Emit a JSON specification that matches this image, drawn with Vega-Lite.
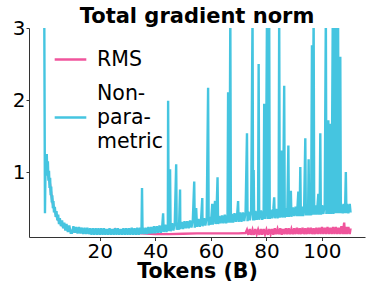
{
  "$schema": "https://vega.github.io/schema/vega-lite/v6.json",
  "width": 336,
  "height": 209,
  "autosize": {"type": "none"},
  "padding": {"left": 29, "top": 28, "right": 3, "bottom": 45},
  "title": {"text": "Total gradient norm", "fontSize": 21, "fontWeight": "bold", "font": "DejaVu Sans", "color": "black", "anchor": "middle", "frame": "group", "offset": -9},
  "config": {"view": {"stroke": null}, "font": "DejaVu Sans"},
  "data": {"values": [
    {"s":"RMS","x":0.5,"y":1.1},{"s":"RMS","x":1,"y":1.05},{"s":"RMS","x":1.5,"y":0.95},{"s":"RMS","x":2,"y":0.85},{"s":"RMS","x":2.5,"y":0.7},{"s":"RMS","x":3,"y":0.58},{"s":"RMS","x":3.5,"y":0.5},{"s":"RMS","x":4,"y":0.44},{"s":"RMS","x":4.5,"y":0.38},{"s":"RMS","x":5,"y":0.34},{"s":"RMS","x":6,"y":0.28},{"s":"RMS","x":7,"y":0.24},{"s":"RMS","x":8,"y":0.21},{"s":"RMS","x":9,"y":0.19},{"s":"RMS","x":10,"y":0.18},{"s":"RMS","x":14,"y":0.17},{"s":"RMS","x":18,"y":0.16},{"s":"RMS","x":22,"y":0.16},{"s":"RMS","x":24,"y":0.16},{"s":"RMS","x":25.5,"y":0.21},{"s":"RMS","x":27,"y":0.16},{"s":"RMS","x":30,"y":0.16},{"s":"RMS","x":35,"y":0.15},{"s":"RMS","x":40,"y":0.14},{"s":"RMS","x":45,"y":0.14},{"s":"RMS","x":50,"y":0.145},{"s":"RMS","x":55,"y":0.15},{"s":"RMS","x":60,"y":0.15},{"s":"RMS","x":65,"y":0.15},{"s":"RMS","x":70,"y":0.15},{"s":"RMS","x":72.5,"y":0.155},
    {"s":"RMS","x":73,"y":0.2},{"s":"RMS","x":73.5,"y":0.13},{"s":"RMS","x":74,"y":0.21},{"s":"RMS","x":74.5,"y":0.13},{"s":"RMS","x":75,"y":0.2},{"s":"RMS","x":75.5,"y":0.13},{"s":"RMS","x":76,"y":0.21},{"s":"RMS","x":76.5,"y":0.14},{"s":"RMS","x":77,"y":0.2},{"s":"RMS","x":77.5,"y":0.13},{"s":"RMS","x":78,"y":0.21},{"s":"RMS","x":78.5,"y":0.13},{"s":"RMS","x":79,"y":0.21},{"s":"RMS","x":79.5,"y":0.14},{"s":"RMS","x":80,"y":0.2},{"s":"RMS","x":80.5,"y":0.13},{"s":"RMS","x":81,"y":0.21},{"s":"RMS","x":81.5,"y":0.14},{"s":"RMS","x":82,"y":0.21},{"s":"RMS","x":82.5,"y":0.13},{"s":"RMS","x":83,"y":0.22},{"s":"RMS","x":83.5,"y":0.14},{"s":"RMS","x":84,"y":0.21},{"s":"RMS","x":84.5,"y":0.14},{"s":"RMS","x":85,"y":0.22},{"s":"RMS","x":85.5,"y":0.13},{"s":"RMS","x":86,"y":0.21},{"s":"RMS","x":86.5,"y":0.14},{"s":"RMS","x":87,"y":0.22},{"s":"RMS","x":87.5,"y":0.14},{"s":"RMS","x":88,"y":0.22},{"s":"RMS","x":88.5,"y":0.14},{"s":"RMS","x":89,"y":0.21},{"s":"RMS","x":89.5,"y":0.14},{"s":"RMS","x":90,"y":0.22},{"s":"RMS","x":90.5,"y":0.14},{"s":"RMS","x":91,"y":0.23},{"s":"RMS","x":91.5,"y":0.14},{"s":"RMS","x":92,"y":0.22},{"s":"RMS","x":92.5,"y":0.14},{"s":"RMS","x":93,"y":0.23},{"s":"RMS","x":93.5,"y":0.14},{"s":"RMS","x":94,"y":0.22},{"s":"RMS","x":94.5,"y":0.14},{"s":"RMS","x":95,"y":0.23},{"s":"RMS","x":95.5,"y":0.14},{"s":"RMS","x":96,"y":0.23},{"s":"RMS","x":96.5,"y":0.14},{"s":"RMS","x":97,"y":0.22},{"s":"RMS","x":97.5,"y":0.14},{"s":"RMS","x":98,"y":0.23},{"s":"RMS","x":98.5,"y":0.14},{"s":"RMS","x":99,"y":0.23},{"s":"RMS","x":99.5,"y":0.14},{"s":"RMS","x":100,"y":0.24},{"s":"RMS","x":100.5,"y":0.14},{"s":"RMS","x":101,"y":0.23},{"s":"RMS","x":101.5,"y":0.14},{"s":"RMS","x":102,"y":0.24},{"s":"RMS","x":102.5,"y":0.14},{"s":"RMS","x":103,"y":0.23},{"s":"RMS","x":103.5,"y":0.14},{"s":"RMS","x":104,"y":0.24},{"s":"RMS","x":104.5,"y":0.14},{"s":"RMS","x":105,"y":0.24},{"s":"RMS","x":105.5,"y":0.14},{"s":"RMS","x":106,"y":0.23},{"s":"RMS","x":106.5,"y":0.14},{"s":"RMS","x":107,"y":0.25},{"s":"RMS","x":107.5,"y":0.14},{"s":"RMS","x":108,"y":0.3},{"s":"RMS","x":108.3,"y":0.14},{"s":"RMS","x":108.7,"y":0.24},{"s":"RMS","x":109,"y":0.14},{"s":"RMS","x":109.5,"y":0.24},{"s":"RMS","x":110,"y":0.14},{"s":"RMS","x":110.3,"y":0.22},
    {"s":"Non-parametric","x":0,"y":3.2},{"s":"Non-parametric","x":0.25,"y":0.43},{"s":"Non-parametric","x":0.5,"y":1.25},{"s":"Non-parametric","x":0.7,"y":1.05},{"s":"Non-parametric","x":0.9,"y":1.25},{"s":"Non-parametric","x":1.1,"y":0.95},{"s":"Non-parametric","x":1.3,"y":1.15},{"s":"Non-parametric","x":1.5,"y":0.88},{"s":"Non-parametric","x":1.7,"y":1.02},{"s":"Non-parametric","x":1.9,"y":0.78},{"s":"Non-parametric","x":2.1,"y":0.92},{"s":"Non-parametric","x":2.3,"y":0.68},{"s":"Non-parametric","x":2.5,"y":0.8},{"s":"Non-parametric","x":2.7,"y":0.58},{"s":"Non-parametric","x":2.9,"y":0.68},{"s":"Non-parametric","x":3.1,"y":0.5},{"s":"Non-parametric","x":3.3,"y":0.6},{"s":"Non-parametric","x":3.5,"y":0.44},{"s":"Non-parametric","x":3.8,"y":0.52},{"s":"Non-parametric","x":4.1,"y":0.38},{"s":"Non-parametric","x":4.4,"y":0.46},{"s":"Non-parametric","x":4.7,"y":0.33},{"s":"Non-parametric","x":5,"y":0.41},{"s":"Non-parametric","x":5.3,"y":0.28},{"s":"Non-parametric","x":5.6,"y":0.36},{"s":"Non-parametric","x":6,"y":0.25},{"s":"Non-parametric","x":6.4,"y":0.33},{"s":"Non-parametric","x":6.8,"y":0.22},{"s":"Non-parametric","x":7.2,"y":0.3},{"s":"Non-parametric","x":7.6,"y":0.19},{"s":"Non-parametric","x":8,"y":0.28},{"s":"Non-parametric","x":8.5,"y":0.17},{"s":"Non-parametric","x":9,"y":0.26},{"s":"Non-parametric","x":9.5,"y":0.16},
    {"s":"Non-parametric","x":10,"y":0.16},{"s":"Non-parametric","x":10.5,"y":0.25},{"s":"Non-parametric","x":11,"y":0.16},{"s":"Non-parametric","x":11.5,"y":0.24},{"s":"Non-parametric","x":12,"y":0.15},{"s":"Non-parametric","x":12.5,"y":0.24},{"s":"Non-parametric","x":13,"y":0.15},{"s":"Non-parametric","x":13.5,"y":0.23},{"s":"Non-parametric","x":14,"y":0.14},{"s":"Non-parametric","x":14.5,"y":0.23},{"s":"Non-parametric","x":15,"y":0.14},{"s":"Non-parametric","x":15.5,"y":0.23},{"s":"Non-parametric","x":16,"y":0.14},{"s":"Non-parametric","x":16.5,"y":0.22},{"s":"Non-parametric","x":17,"y":0.13},{"s":"Non-parametric","x":17.5,"y":0.22},{"s":"Non-parametric","x":18,"y":0.13},{"s":"Non-parametric","x":18.5,"y":0.22},{"s":"Non-parametric","x":19,"y":0.13},{"s":"Non-parametric","x":19.5,"y":0.22},{"s":"Non-parametric","x":20,"y":0.13},{"s":"Non-parametric","x":20.5,"y":0.22},{"s":"Non-parametric","x":21,"y":0.13},{"s":"Non-parametric","x":21.5,"y":0.22},{"s":"Non-parametric","x":22,"y":0.13},{"s":"Non-parametric","x":22.5,"y":0.21},{"s":"Non-parametric","x":23,"y":0.13},{"s":"Non-parametric","x":23.5,"y":0.22},{"s":"Non-parametric","x":24,"y":0.13},{"s":"Non-parametric","x":24.5,"y":0.21},{"s":"Non-parametric","x":25,"y":0.13},{"s":"Non-parametric","x":25.5,"y":0.22},{"s":"Non-parametric","x":26,"y":0.13},{"s":"Non-parametric","x":26.5,"y":0.22},{"s":"Non-parametric","x":27,"y":0.13},{"s":"Non-parametric","x":27.5,"y":0.21},{"s":"Non-parametric","x":28,"y":0.13},{"s":"Non-parametric","x":28.5,"y":0.22},{"s":"Non-parametric","x":29,"y":0.13},{"s":"Non-parametric","x":29.5,"y":0.22},{"s":"Non-parametric","x":30,"y":0.13},{"s":"Non-parametric","x":30.5,"y":0.22},{"s":"Non-parametric","x":31,"y":0.13},{"s":"Non-parametric","x":31.5,"y":0.23},{"s":"Non-parametric","x":32,"y":0.13},{"s":"Non-parametric","x":32.5,"y":0.22},{"s":"Non-parametric","x":33,"y":0.13},{"s":"Non-parametric","x":33.5,"y":0.23},{"s":"Non-parametric","x":34,"y":0.13},{"s":"Non-parametric","x":34.5,"y":0.23},{"s":"Non-parametric","x":35,"y":0.14},{"s":"Non-parametric","x":35.2,"y":0.78},{"s":"Non-parametric","x":35.4,"y":0.15},{"s":"Non-parametric","x":35.5,"y":0.23},{"s":"Non-parametric","x":36,"y":0.14},{"s":"Non-parametric","x":36.5,"y":0.23},{"s":"Non-parametric","x":37,"y":0.14},{"s":"Non-parametric","x":37.5,"y":0.24},{"s":"Non-parametric","x":38,"y":0.15},{"s":"Non-parametric","x":38.5,"y":0.24},{"s":"Non-parametric","x":39,"y":0.15},{"s":"Non-parametric","x":39.5,"y":0.25},{"s":"Non-parametric","x":40,"y":0.15},{"s":"Non-parametric","x":40.5,"y":0.25},{"s":"Non-parametric","x":41,"y":0.16},{"s":"Non-parametric","x":41.5,"y":0.26},{"s":"Non-parametric","x":42,"y":0.16},{"s":"Non-parametric","x":42.5,"y":0.26},{"s":"Non-parametric","x":42.8,"y":0.43},{"s":"Non-parametric","x":43,"y":0.17},{"s":"Non-parametric","x":43.5,"y":0.27},{"s":"Non-parametric","x":44,"y":0.17},{"s":"Non-parametric","x":44.5,"y":0.28},{"s":"Non-parametric","x":44.6,"y":1.99},{"s":"Non-parametric","x":44.8,"y":0.18},{"s":"Non-parametric","x":45,"y":0.28},{"s":"Non-parametric","x":45.3,"y":1.04},{"s":"Non-parametric","x":45.5,"y":0.18},{"s":"Non-parametric","x":46,"y":0.29},{"s":"Non-parametric","x":46.5,"y":0.19},{"s":"Non-parametric","x":47,"y":0.3},{"s":"Non-parametric","x":47.5,"y":1.11},{"s":"Non-parametric","x":47.7,"y":0.2},{"s":"Non-parametric","x":48,"y":0.3},{"s":"Non-parametric","x":48.5,"y":0.2},{"s":"Non-parametric","x":48.9,"y":0.76},{"s":"Non-parametric","x":49,"y":0.21},{"s":"Non-parametric","x":49.5,"y":0.31},{"s":"Non-parametric","x":50,"y":0.21},{"s":"Non-parametric","x":50.5,"y":0.32},{"s":"Non-parametric","x":51,"y":0.22},{"s":"Non-parametric","x":51.5,"y":0.32},{"s":"Non-parametric","x":52,"y":0.22},{"s":"Non-parametric","x":52.5,"y":0.33},{"s":"Non-parametric","x":53,"y":0.23},{"s":"Non-parametric","x":53.5,"y":0.34},{"s":"Non-parametric","x":54,"y":0.87},{"s":"Non-parametric","x":54.2,"y":0.23},{"s":"Non-parametric","x":54.5,"y":0.34},{"s":"Non-parametric","x":54.7,"y":0.5},{"s":"Non-parametric","x":55,"y":0.24},{"s":"Non-parametric","x":55.5,"y":0.35},{"s":"Non-parametric","x":56,"y":0.24},{"s":"Non-parametric","x":56.5,"y":0.36},{"s":"Non-parametric","x":56.9,"y":0.64},{"s":"Non-parametric","x":57,"y":0.25},{"s":"Non-parametric","x":57.5,"y":0.36},{"s":"Non-parametric","x":58,"y":0.26},{"s":"Non-parametric","x":58.5,"y":0.37},{"s":"Non-parametric","x":59,"y":2.17},{"s":"Non-parametric","x":59.2,"y":0.26},{"s":"Non-parametric","x":59.5,"y":0.38},{"s":"Non-parametric","x":60,"y":0.27},{"s":"Non-parametric","x":60.5,"y":0.56},{"s":"Non-parametric","x":60.7,"y":0.27},{"s":"Non-parametric","x":61,"y":0.38},{"s":"Non-parametric","x":61.5,"y":0.6},{"s":"Non-parametric","x":61.7,"y":0.28},{"s":"Non-parametric","x":62,"y":0.39},{"s":"Non-parametric","x":62.4,"y":0.93},{"s":"Non-parametric","x":62.6,"y":0.28},{"s":"Non-parametric","x":63,"y":0.39},{"s":"Non-parametric","x":63.5,"y":0.29},{"s":"Non-parametric","x":64,"y":0.4},{"s":"Non-parametric","x":64.5,"y":0.29},{"s":"Non-parametric","x":65,"y":0.41},{"s":"Non-parametric","x":65.5,"y":0.29},{"s":"Non-parametric","x":66,"y":0.41},{"s":"Non-parametric","x":66.2,"y":2.11},{"s":"Non-parametric","x":66.4,"y":0.3},{"s":"Non-parametric","x":66.7,"y":0.41},{"s":"Non-parametric","x":67,"y":3.2},{"s":"Non-parametric","x":67.2,"y":0.3},{"s":"Non-parametric","x":67.5,"y":0.42},{"s":"Non-parametric","x":68,"y":0.3},{"s":"Non-parametric","x":68.5,"y":0.43},{"s":"Non-parametric","x":69,"y":0.31},{"s":"Non-parametric","x":69.5,"y":0.43},{"s":"Non-parametric","x":69.8,"y":0.6},{"s":"Non-parametric","x":70,"y":0.31},{"s":"Non-parametric","x":70.5,"y":0.44},{"s":"Non-parametric","x":71,"y":0.31},{"s":"Non-parametric","x":71.5,"y":0.44},{"s":"Non-parametric","x":72,"y":0.32},{"s":"Non-parametric","x":72.5,"y":0.45},{"s":"Non-parametric","x":73,"y":1.54},{"s":"Non-parametric","x":73.2,"y":0.32},{"s":"Non-parametric","x":73.5,"y":0.45},{"s":"Non-parametric","x":74,"y":0.33},{"s":"Non-parametric","x":74.5,"y":0.46},{"s":"Non-parametric","x":75,"y":3.2},{"s":"Non-parametric","x":75.2,"y":0.33},{"s":"Non-parametric","x":75.4,"y":1.03},{"s":"Non-parametric","x":75.6,"y":0.33},{"s":"Non-parametric","x":76,"y":0.46},{"s":"Non-parametric","x":76.5,"y":0.34},{"s":"Non-parametric","x":77,"y":0.47},{"s":"Non-parametric","x":77.2,"y":2.5},{"s":"Non-parametric","x":77.4,"y":0.34},{"s":"Non-parametric","x":78,"y":0.47},{"s":"Non-parametric","x":78.5,"y":0.34},{"s":"Non-parametric","x":79,"y":0.47},{"s":"Non-parametric","x":79.2,"y":1.95},{"s":"Non-parametric","x":79.4,"y":0.35},{"s":"Non-parametric","x":79.8,"y":0.48},{"s":"Non-parametric","x":80.2,"y":3.2},{"s":"Non-parametric","x":80.4,"y":0.35},{"s":"Non-parametric","x":80.7,"y":0.48},{"s":"Non-parametric","x":81,"y":3.2},{"s":"Non-parametric","x":81.2,"y":0.35},{"s":"Non-parametric","x":81.5,"y":0.48},{"s":"Non-parametric","x":82,"y":0.36},{"s":"Non-parametric","x":82.5,"y":0.49},{"s":"Non-parametric","x":82.8,"y":0.65},{"s":"Non-parametric","x":83,"y":0.36},{"s":"Non-parametric","x":83.5,"y":0.49},{"s":"Non-parametric","x":84,"y":0.36},{"s":"Non-parametric","x":84.4,"y":0.49},{"s":"Non-parametric","x":84.6,"y":3.2},{"s":"Non-parametric","x":84.8,"y":0.37},{"s":"Non-parametric","x":85.2,"y":0.49},{"s":"Non-parametric","x":85.5,"y":1.3},{"s":"Non-parametric","x":85.7,"y":0.37},{"s":"Non-parametric","x":86,"y":0.5},{"s":"Non-parametric","x":86.4,"y":2.2},{"s":"Non-parametric","x":86.6,"y":0.37},{"s":"Non-parametric","x":87,"y":0.5},{"s":"Non-parametric","x":87.5,"y":0.38},{"s":"Non-parametric","x":87.9,"y":1.37},{"s":"Non-parametric","x":88.1,"y":0.38},{"s":"Non-parametric","x":88.5,"y":0.51},{"s":"Non-parametric","x":88.8,"y":0.74},{"s":"Non-parametric","x":89,"y":0.38},{"s":"Non-parametric","x":89.5,"y":0.51},{"s":"Non-parametric","x":90,"y":0.39},{"s":"Non-parametric","x":90.5,"y":0.52},{"s":"Non-parametric","x":91,"y":0.39},{"s":"Non-parametric","x":91.5,"y":0.73},{"s":"Non-parametric","x":91.7,"y":0.39},{"s":"Non-parametric","x":92,"y":0.52},{"s":"Non-parametric","x":92.2,"y":1.07},{"s":"Non-parametric","x":92.4,"y":0.39},{"s":"Non-parametric","x":92.8,"y":0.52},{"s":"Non-parametric","x":93.2,"y":0.39},{"s":"Non-parametric","x":93.6,"y":0.53},{"s":"Non-parametric","x":94,"y":1.47},{"s":"Non-parametric","x":94.2,"y":0.4},{"s":"Non-parametric","x":94.6,"y":0.53},{"s":"Non-parametric","x":95,"y":0.4},{"s":"Non-parametric","x":95.2,"y":1.18},{"s":"Non-parametric","x":95.4,"y":0.4},{"s":"Non-parametric","x":95.8,"y":0.53},{"s":"Non-parametric","x":96.1,"y":0.4},{"s":"Non-parametric","x":96.4,"y":2.76},{"s":"Non-parametric","x":96.6,"y":0.41},{"s":"Non-parametric","x":97,"y":3.2},{"s":"Non-parametric","x":97.2,"y":0.41},{"s":"Non-parametric","x":97.6,"y":0.54},{"s":"Non-parametric","x":98,"y":0.41},{"s":"Non-parametric","x":98.4,"y":0.54},{"s":"Non-parametric","x":98.7,"y":0.7},{"s":"Non-parametric","x":98.9,"y":0.41},{"s":"Non-parametric","x":99.2,"y":0.54},{"s":"Non-parametric","x":99.4,"y":1.54},{"s":"Non-parametric","x":99.6,"y":0.41},{"s":"Non-parametric","x":100,"y":0.54},{"s":"Non-parametric","x":100.5,"y":0.42},{"s":"Non-parametric","x":101,"y":0.55},{"s":"Non-parametric","x":101.4,"y":3.2},{"s":"Non-parametric","x":101.6,"y":0.42},{"s":"Non-parametric","x":102,"y":0.55},{"s":"Non-parametric","x":102.3,"y":1.72},{"s":"Non-parametric","x":102.5,"y":0.42},{"s":"Non-parametric","x":103,"y":1.67},{"s":"Non-parametric","x":103.2,"y":0.42},{"s":"Non-parametric","x":103.5,"y":0.55},{"s":"Non-parametric","x":103.9,"y":3.2},{"s":"Non-parametric","x":104.1,"y":0.42},{"s":"Non-parametric","x":104.3,"y":0.55},{"s":"Non-parametric","x":104.5,"y":3.2},{"s":"Non-parametric","x":104.7,"y":0.43},{"s":"Non-parametric","x":105,"y":0.56},{"s":"Non-parametric","x":105.2,"y":3.2},{"s":"Non-parametric","x":105.4,"y":0.43},{"s":"Non-parametric","x":105.6,"y":0.56},{"s":"Non-parametric","x":105.8,"y":3.2},{"s":"Non-parametric","x":106,"y":0.43},{"s":"Non-parametric","x":106.3,"y":0.56},{"s":"Non-parametric","x":106.6,"y":2.6},{"s":"Non-parametric","x":106.8,"y":0.43},{"s":"Non-parametric","x":107,"y":0.56},{"s":"Non-parametric","x":107.5,"y":0.43},{"s":"Non-parametric","x":108,"y":0.56},{"s":"Non-parametric","x":108.3,"y":0.43},{"s":"Non-parametric","x":108.6,"y":1.0},{"s":"Non-parametric","x":108.8,"y":0.43},{"s":"Non-parametric","x":109,"y":0.56},{"s":"Non-parametric","x":109.5,"y":0.43},{"s":"Non-parametric","x":110,"y":0.56},{"s":"Non-parametric","x":110.3,"y":0.44}
  ]},
  "mark": {"type": "line", "strokeWidth": 2.4, "clip": true},
  "encoding": {
    "x": {"field": "x", "type": "quantitative", "scale": {"domain": [-5.5, 115.5], "nice": false, "zero": false},
      "axis": {"title": "Tokens (B)", "values": [20, 40, 60, 80, 100], "grid": false, "domainColor": "#333", "tickColor": "#333", "tickSize": 3.5, "labelPadding": 0.5, "labelFontSize": 20, "labelColor": "black", "labelFont": "DejaVu Sans", "titleFontSize": 20.5, "titleFontWeight": "bold", "titleColor": "black", "titleFont": "DejaVu Sans", "titlePadding": 0, "labelFlush": false}},
    "y": {"field": "y", "type": "quantitative", "scale": {"domain": [0.1, 3], "nice": false, "zero": false},
      "axis": {"title": null, "values": [1, 2, 3], "grid": false, "domainColor": "#333", "tickColor": "#333", "tickSize": 3, "labelPadding": 1, "labelFontSize": 20, "labelColor": "black", "labelFont": "DejaVu Sans", "labelFlush": false}},
    "color": {"field": "s", "type": "nominal", "scale": {"domain": ["RMS", "Non-parametric"], "range": ["#f0559c", "#45c5e0"]},
      "legend": {"orient": "none", "legendX": 24, "legendY": 14, "title": null, "symbolType": "stroke", "symbolSize": 1000, "symbolStrokeWidth": 2.5, "labelFontSize": 20.5, "labelFont": "DejaVu Sans", "labelColor": "black", "labelOffset": 9, "rowPadding": 13, "padding": 0, "labelExpr": "datum.label == 'Non-parametric' ? ['Non-','para-','metric'] : ['', datum.label]",
        "encoding": {"labels": {"dy": {"value": -24}, "lineHeight": {"value": 24}}}}}
  }
}
